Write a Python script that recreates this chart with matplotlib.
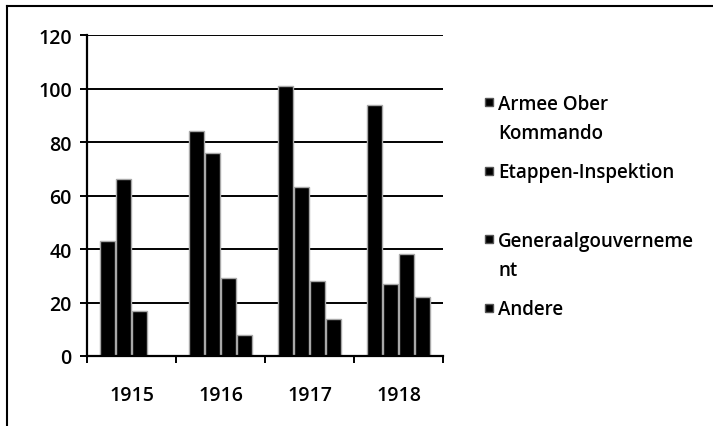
import numpy as np
import matplotlib.pyplot as plt
from matplotlib.patches import Rectangle
from matplotlib.lines import Line2D

years = ["1915", "1916", "1917", "1918"]
series = ["Armee Ober\nKommando", "Etappen-Inspektion",
          "Generaalgouverneme\nnt", "Andere"]
armee = [43, 84, 101, 94]
etappen = [66, 76, 63, 27]
generaal = [17, 29, 28, 38]
andere = [0, 8, 14, 22]
values = [armee, etappen, generaal, andere]

plt.rcParams['font.family'] = ['Open Sans', 'DejaVu Sans']

W, H = 713, 427
fig = plt.figure(figsize=(W / 100, H / 100), dpi=100)
ax = fig.add_axes([87 / W, 1 - 357 / H, (443 - 87) / W, (357 - 36) / H])

x = np.arange(len(years))
bw = 0.177
for i, vals in enumerate(values):
    ax.bar(x - 1.5 * bw + i * bw, vals, width=bw * 0.95, color='black',
           edgecolor='#a8a8a8', linewidth=1.0, zorder=3)

ax.set_xlim(-0.5, 3.5)
ax.set_ylim(0, 120)
ax.set_yticks(range(0, 121, 20))
ax.yaxis.grid(True, color='black', linewidth=1.4, zorder=1)
ax.set_xticks(x)
ax.set_xticklabels(years)
ax.set_xticks(np.arange(-0.5, 4, 1), minor=True)
ax.tick_params(axis='x', which='major', length=0, pad=21, labelsize=14)
ax.tick_params(axis='x', which='minor', length=5, width=1.4, direction='out')
ax.tick_params(axis='y', length=5, width=1.4, labelsize=14, pad=6)
for lab in ax.get_xticklabels() + ax.get_yticklabels():
    lab.set_fontweight('semibold')
for s in ['top', 'right']:
    ax.spines[s].set_visible(False)
for s in ['left', 'bottom']:
    ax.spines[s].set_linewidth(1.6)
    ax.spines[s].set_zorder(4)

# legend drawn by hand so the square sits on the first line of each entry
for i, name in enumerate(series):
    ytop = 95 + i * 68.5
    fig.patches.append(Rectangle((485 / W, 1 - (ytop + 12) / H), 8 / W, 8 / H,
                                 facecolor='black', edgecolor='#555555',
                                 transform=fig.transFigure))
    fig.text(498 / W, 1 - ytop / H, name, fontsize=13.5, va='top',
             ha='left', linespacing=1.6, fontweight='semibold')

# outer frame: top and left edges only
fig.add_artist(Line2D([7 / W, 1], [1 - 7 / H, 1 - 7 / H], color='black',
                      linewidth=1.5, transform=fig.transFigure))
fig.add_artist(Line2D([7 / W, 7 / W], [0, 1 - 7 / H], color='black',
                      linewidth=1.5, transform=fig.transFigure))

fig.savefig("out.png", dpi=100)
